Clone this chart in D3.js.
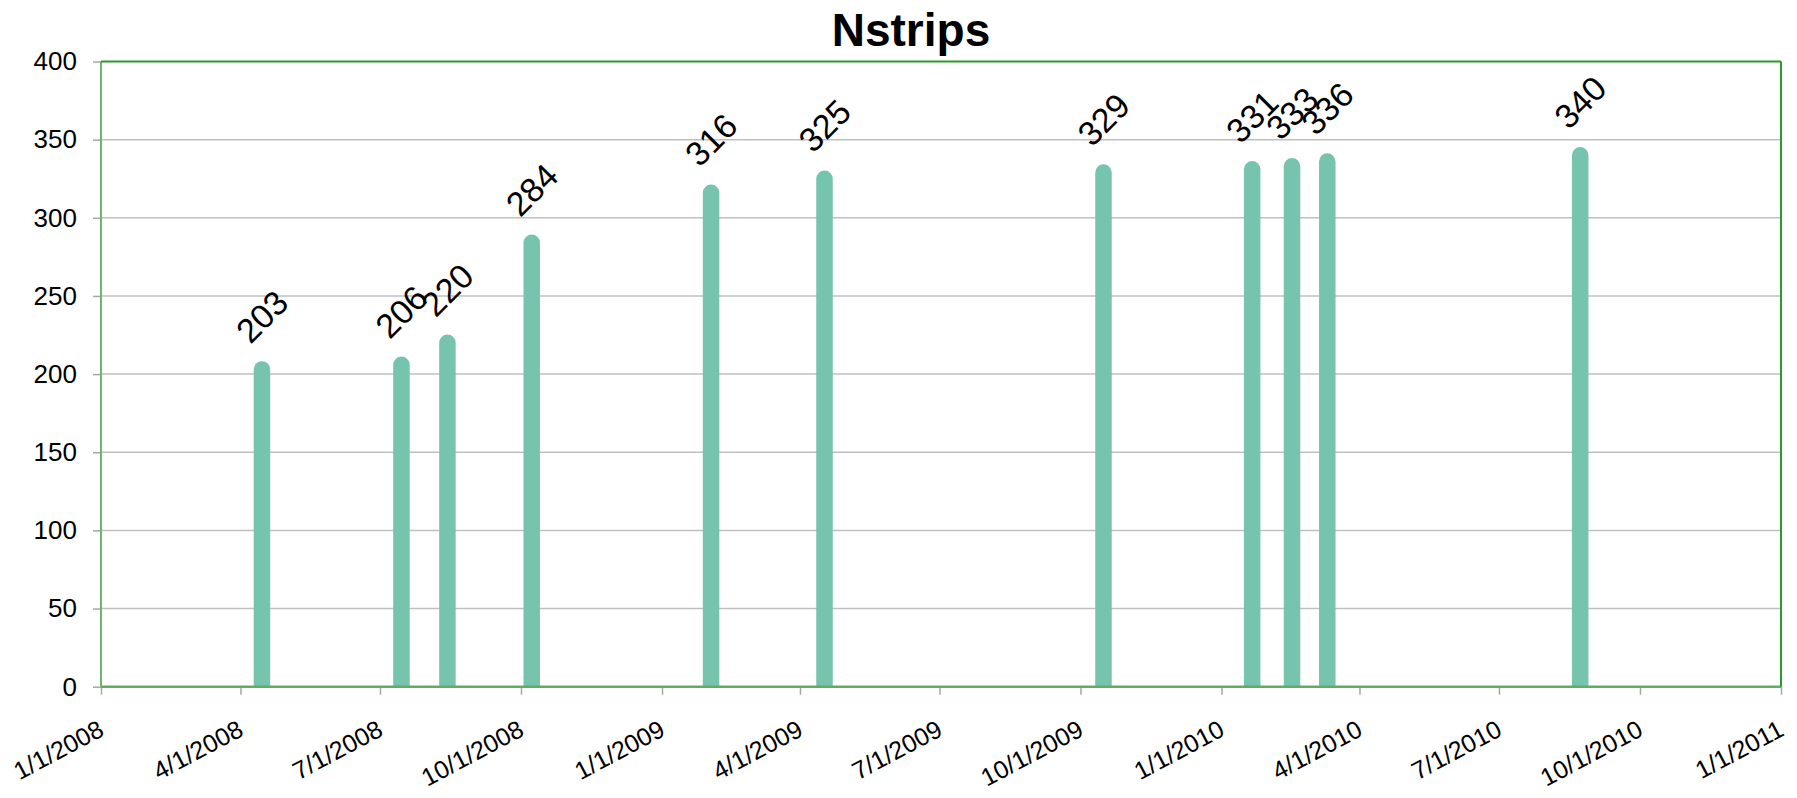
<!DOCTYPE html>
<html>
<head>
<meta charset="utf-8">
<script src="https://cdn.jsdelivr.net/npm/d3@7"></script>
<style>
  html, body { margin: 0; padding: 0; background: #fff; }
  svg { display: block; font-family: Arial, "Liberation Sans", sans-serif; }
</style>
</head>
<body>
<svg id="chart" width="1797" height="798"></svg>
<script>
// Measurement dates and strip counts
const dates = ["2008-04-15", "2008-07-15", "2008-08-14", "2008-10-08", "2009-02-02",
               "2009-04-17", "2009-10-16", "2010-01-21", "2010-02-16", "2010-03-11", "2010-08-23"];
const nstrips = [203, 206, 220, 284, 316, 325, 329, 331, 333, 336, 340];
const yTicks = [0, 50, 100, 150, 200, 250, 300, 350, 400];
const xStart = "2008-01-01";
const xEnd = "2011-01-01";

const parse = d3.utcParse("%Y-%m-%d");
const fmt = d3.utcFormat("%-m/%-d/%Y");
const data = dates.map((d, i) => ({ date: parse(d), value: nstrips[i] }));

const svg = d3.select("#chart");
const plotLeft = 101, plotRight = 1781, plotTop = 61.5, plotBottom = 686.7;

const x = d3.scaleUtc().domain([parse(xStart), parse(xEnd)]).range([plotLeft, plotRight]);
const y = d3.scaleLinear().domain([0, 400]).range([plotBottom, plotTop]);

// Title
svg.append("text")
  .attr("x", 911).attr("y", 46)
  .attr("text-anchor", "middle")
  .attr("font-size", 46).attr("font-weight", "bold")
  .text("Nstrips");

// Horizontal gridlines
svg.append("g")
  .selectAll("line")
  .data(yTicks.filter(t => t > 0 && t < 400))
  .join("line")
  .attr("x1", plotLeft).attr("x2", plotRight)
  .attr("y1", d => y(d)).attr("y2", d => y(d))
  .attr("stroke", "#c0c0c0").attr("stroke-width", 1.5);

// Y axis
const yAxis = svg.append("g")
  .attr("transform", `translate(${plotLeft},0)`)
  .call(d3.axisLeft(y).tickValues(yTicks).tickSize(8).tickPadding(16));
yAxis.select(".domain").remove();
yAxis.selectAll(".tick line").attr("stroke", "#a6a6a6").attr("stroke-width", 1.5);
yAxis.selectAll(".tick text").attr("font-size", 26).attr("fill", "#000")
  .attr("font-family", "Arial, 'Liberation Sans', sans-serif");

// X axis
const xAxis = svg.append("g")
  .attr("transform", `translate(0,${plotBottom})`)
  .call(d3.axisBottom(x).ticks(d3.utcMonth.every(3)).tickFormat(fmt).tickSize(8));
xAxis.select(".domain").remove();
xAxis.selectAll(".tick line").attr("stroke", "#a6a6a6").attr("stroke-width", 1.5);
xAxis.selectAll(".tick text")
  .attr("font-size", 25).attr("fill", "#000")
  .attr("font-family", "Arial, 'Liberation Sans', sans-serif")
  .attr("text-anchor", "end")
  .attr("dy", null)
  .attr("y", 0)
  .attr("transform", "translate(4,48) rotate(-28)");

// Bars clipped to the plot area so the rounded cap shows only on top
svg.append("clipPath").attr("id", "plotClip")
  .append("rect").attr("x", plotLeft).attr("y", 0)
  .attr("width", plotRight - plotLeft).attr("height", plotBottom);

svg.append("g")
  .attr("clip-path", "url(#plotClip)")
  .selectAll("line")
  .data(data)
  .join("line")
  .attr("x1", d => x(d.date)).attr("x2", d => x(d.date))
  .attr("y1", y(0) + 10).attr("y2", d => y(d.value))
  .attr("stroke", "#76c4ae").attr("stroke-width", 16.5)
  .attr("stroke-linecap", "round");

// Plot frame: axis sides and outer sides
svg.append("line").attr("x1", plotLeft).attr("x2", plotRight).attr("y1", plotBottom).attr("y2", plotBottom)
  .attr("stroke", "#5fad5f").attr("stroke-width", 2.5);
svg.append("line").attr("x1", plotLeft).attr("x2", plotLeft).attr("y1", plotTop).attr("y2", plotBottom)
  .attr("stroke", "#6cb56c").attr("stroke-width", 2);
svg.append("line").attr("x1", plotLeft).attr("x2", plotRight).attr("y1", plotTop).attr("y2", plotTop)
  .attr("stroke", "#2a9a2a").attr("stroke-width", 2);
svg.append("line").attr("x1", plotRight).attr("x2", plotRight).attr("y1", plotTop).attr("y2", plotBottom)
  .attr("stroke", "#2a9a2a").attr("stroke-width", 2);

// Value labels
svg.append("g")
  .selectAll("text")
  .data(data)
  .join("text")
  .attr("transform", d => `translate(${x(d.date)},${y(d.value) - 53}) rotate(-45)`)
  .attr("text-anchor", "middle")
  .attr("dominant-baseline", "central")
  .attr("font-size", 34)
  .attr("fill", "#000")
  .text(d => d.value);
</script>
</body>
</html>
